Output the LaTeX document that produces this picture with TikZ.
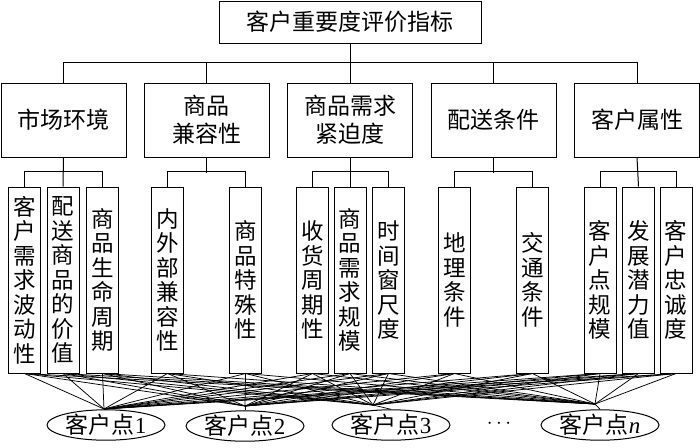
\documentclass[tikz,border=0pt]{standalone}
\usepackage{fontspec}
\setmainfont{Liberation Serif}
\newfontfamily\cjk{Noto Sans CJK SC}
\usetikzlibrary{shapes.geometric}
\begin{document}
\begin{tikzpicture}[x=1pt,y=-1pt,line width=1pt,
  box/.style={draw,inner sep=0pt,align=center,font=\cjk\fontsize{23}{28}\selectfont},
  lvl/.style={box,minimum width=125pt,minimum height=74pt},
  leaf/.style={draw,inner sep=0pt,align=center,minimum width=32pt,minimum height=186pt,font=\cjk\fontsize{22.5}{24.5}\selectfont},
  ell/.style={draw,ellipse,inner sep=0pt,minimum width=118pt,minimum height=30pt,font=\fontsize{23}{24}\selectfont},
  fan/.style={line width=0.75pt}]
\useasboundingbox (0,0) rectangle (700,447);
% top
\node[box,minimum width=262pt,minimum height=42pt] (top) at (350,22) {客户重要度评价指标};
% level 2
\node[lvl] (a) at (63.5,120) {市场环境};
\node[lvl] (b) at (206.5,120) {商品\\兼容性};
\node[lvl] (c) at (350,120) {商品需求\\紧迫度};
\node[lvl] (d) at (493.5,120) {配送条件};
\node[lvl] (e) at (637,120) {客户属性};
% leaves
\node[leaf] (a1) at (24.5,280) {客\\户\\需\\求\\波\\动\\性};
\node[leaf] (a2) at (63,280) {配\\送\\商\\品\\的\\价\\值};
\node[leaf] (a3) at (102.5,280) {商\\品\\生\\命\\周\\期};
\node[leaf] (b1) at (167.5,280) {内\\外\\部\\兼\\容\\性};
\node[leaf] (b2) at (245.5,280) {商\\品\\特\\殊\\性};
\node[leaf] (c1) at (312.5,280) {收\\货\\周\\期\\性};
\node[leaf] (c2) at (350,280) {商\\品\\需\\求\\规\\模};
\node[leaf] (c3) at (388.5,280) {时\\间\\窗\\尺\\度};
\node[leaf] (d1) at (454.5,280) {地\\理\\条\\件};
\node[leaf] (d2) at (532.5,280) {交\\通\\条\\件};
\node[leaf] (e1) at (600,280) {客\\户\\点\\规\\模};
\node[leaf] (e2) at (638.5,280) {发\\展\\潜\\力\\值};
\node[leaf] (e3) at (676,280) {客\\户\\忠\\诚\\度};
% customer points
\node[ell] (k1) at (106,425) {{\cjk 客户点}1};
\node[ell] (k2) at (245,426) {{\cjk 客户点}2};
\node[ell] (k3) at (391,425) {{\cjk 客户点}3};
\node[ell] (kn) at (600,425) {{\cjk 客户点}\textit{n}};
\node[font=\fontsize{22}{22}\selectfont] (dots) at (499,424) {$\cdots$};
\coordinate (p1) at (104,409);
\coordinate (p2) at (245,406);
\coordinate (p3) at (373,405);
\coordinate (pn) at (595,404);
% tree connectors level 1
\draw (a.north) -- ++(0,-20) -| (e.north);
\draw (top.south) -- (c.north);
\draw (b.north) -- ++(0,-20);
\draw (d.north) -- ++(0,-20);
% level 2 connectors
\draw (a1.north) -- ++(0,-15) -| (a3.north);
\draw (a.south) -- (a2.north);
\draw (b1.north) -- ++(0,-15) -| (b2.north);
\draw (b.south) -- ++(0,15);
\draw (c1.north) -- ++(0,-15) -| (c3.north);
\draw (c.south) -- (c2.north);
\draw (d1.north) -- ++(0,-15) -| (d2.north);
\draw (d.south) -- ++(0,15);
\draw (e1.north) -- ++(0,-15) -| (e3.north);
\draw (e.south) -- (e2.north);
% fan
\foreach \l in {a1,a2,a3,b1,b2,c1,c2,c3,d1,d2,e1,e2,e3}
  \foreach \p in {p1,p2,p3,pn}
    \draw[fan] (\l.south) -- (\p);
\draw[fan] (p1) -- (k1.north);
\draw[fan] (p2) -- (k2.north);
\draw[fan] (p3) -- (k3.north);
\draw[fan] (pn) -- (kn.north);
\end{tikzpicture}
\end{document}
